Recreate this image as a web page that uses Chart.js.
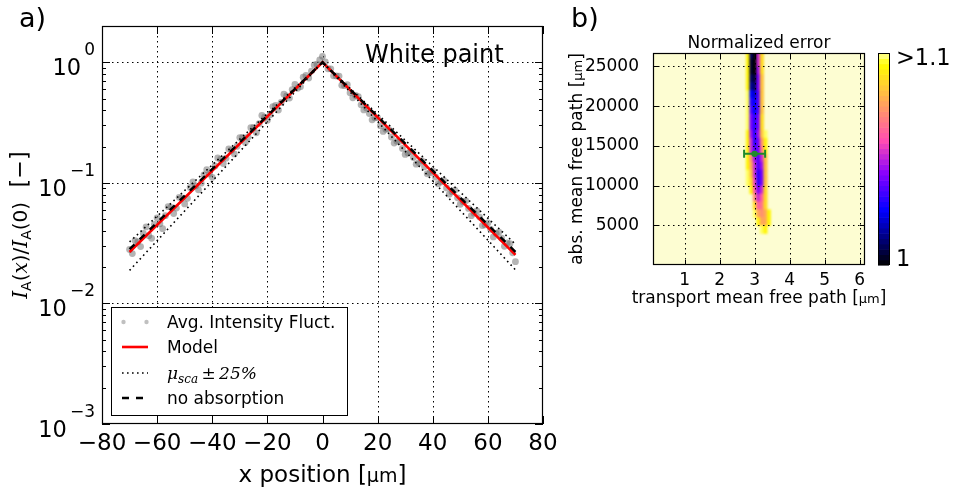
<!DOCTYPE html>
<html>
<head>
<meta charset="utf-8">
<title>White paint</title>
<script src="https://cdn.jsdelivr.net/npm/chart.js@4.4.1/dist/chart.umd.min.js"></script>
<style>
  html, body { margin: 0; padding: 0; background: #fff; }
  #wrap { position: relative; width: 957px; height: 488px; overflow: hidden; }
  canvas { position: absolute; top: 0; }
  #chartA { left: 0; }
  #chartB { left: 560px; }
</style>
</head>
<body>
<div id="wrap">
  <canvas id="chartA" width="560" height="488"></canvas>
  <canvas id="chartB" width="397" height="310"></canvas>
</div>
<script>
// ---- panel a) : intensity profile, one sample per micron from x = -70
const fluctStartX = -70;
const fluctY = [
  0.0280, 0.0259, 0.0332, 0.0324, 0.0296, 0.0381, 0.0431, 0.0365, 0.0347, 0.0452,
  0.0511, 0.0458, 0.0417, 0.0534, 0.0634, 0.0627, 0.0557, 0.0618, 0.0759, 0.0750,
  0.0669, 0.0744, 0.0917, 0.1020, 0.0944, 0.0877, 0.0995, 0.1167, 0.1286, 0.1187,
  0.1111, 0.1383, 0.1610, 0.1564, 0.1444, 0.1602, 0.1911, 0.1868, 0.1738, 0.2012,
  0.2373, 0.2387, 0.2162, 0.2400, 0.2867, 0.2881, 0.2601, 0.3104, 0.3622, 0.3510,
  0.3305, 0.3668, 0.4296, 0.4399, 0.4021, 0.4649, 0.5430, 0.5258, 0.5053, 0.5944,
  0.6558, 0.6090, 0.6280, 0.7519, 0.7772, 0.7412, 0.8456, 0.9505, 0.9648, 1.0446,
  1.12,
  1.006, 0.8837, 0.8820, 0.7724, 0.770, 0.768, 0.645, 0.640, 0.651, 0.559,
  0.508, 0.531, 0.519, 0.444, 0.403, 0.418, 0.376, 0.333, 0.346, 0.346,
  0.298, 0.267, 0.278, 0.278, 0.240, 0.214, 0.221, 0.221, 0.193, 0.172,
  0.177, 0.182, 0.162, 0.143, 0.147, 0.153, 0.136, 0.119, 0.121, 0.1255,
  0.1118, 0.0983, 0.1018, 0.1048, 0.0908, 0.0805, 0.0843, 0.0869, 0.0752, 0.0665,
  0.0697, 0.0709, 0.0614, 0.0534, 0.0561, 0.0585, 0.0520, 0.0442, 0.0448, 0.0465,
  0.0412, 0.0356, 0.0381, 0.0391, 0.0348, 0.0298, 0.0317, 0.0313, 0.0263, 0.0222
];
const modelX = [-70, 0, 70];
const modelY = [0.0267, 1, 0.0253];
const noAbsorptionY = [0.0282, 1, 0.0268];
const scaPlusY = [0.0324, 1, 0.0310];
const scaMinusY = [0.0188, 1, 0.0190];
const xTicksA = [-80, -60, -40, -20, 0, 20, 40, 60, 80];
const yDecadesA = [-3, -2, -1, 0];

// ---- panel b) : normalized error map (values > 1.1 shown as background)
const mapX = [2.7, 2.8, 2.9, 3.0, 3.1, 3.2, 3.3, 3.4, 3.5];
const mapY = [26500, 25500, 24500, 23500, 22500, 21500, 20500, 19500, 18500, 17500, 16500, 15500,
              14500, 13500, 12500, 11500, 10500, 9500, 8500, 7500, 6500, 5500, 4500];
const errNorm = [
  [1.2, 1.09, 1.01, 1.00, 1.05, 1.085, 1.2, 1.2, 1.2],
  [1.2, 1.09, 1.005, 1.00, 1.05, 1.085, 1.2, 1.2, 1.2],
  [1.2, 1.09, 1.005, 1.00, 1.045, 1.085, 1.2, 1.2, 1.2],
  [1.2, 1.09, 1.01, 1.005, 1.04, 1.08, 1.2, 1.2, 1.2],
  [1.2, 1.09, 1.015, 1.01, 1.04, 1.08, 1.2, 1.2, 1.2],
  [1.2, 1.095, 1.025, 1.02, 1.035, 1.08, 1.2, 1.2, 1.2],
  [1.2, 1.095, 1.03, 1.025, 1.035, 1.08, 1.2, 1.2, 1.2],
  [1.2, 1.095, 1.035, 1.025, 1.035, 1.08, 1.2, 1.2, 1.2],
  [1.2, 1.095, 1.04, 1.03, 1.04, 1.085, 1.2, 1.2, 1.2],
  [1.2, 1.095, 1.04, 1.03, 1.04, 1.085, 1.2, 1.2, 1.2],
  [1.2, 1.09, 1.045, 1.03, 1.045, 1.08, 1.095, 1.2, 1.2],
  [1.2, 1.09, 1.05, 1.03, 1.04, 1.07, 1.09, 1.2, 1.2],
  [1.2, 1.09, 1.05, 1.035, 1.04, 1.065, 1.09, 1.2, 1.2],
  [1.2, 1.09, 1.07, 1.045, 1.035, 1.05, 1.08, 1.2, 1.2],
  [1.2, 1.09, 1.075, 1.05, 1.035, 1.045, 1.08, 1.2, 1.2],
  [1.2, 1.095, 1.08, 1.05, 1.03, 1.04, 1.08, 1.2, 1.2],
  [1.2, 1.095, 1.085, 1.055, 1.03, 1.04, 1.08, 1.2, 1.2],
  [1.2, 1.2, 1.09, 1.06, 1.04, 1.05, 1.085, 1.2, 1.2],
  [1.2, 1.2, 1.2, 1.07, 1.05, 1.06, 1.085, 1.2, 1.2],
  [1.2, 1.2, 1.2, 1.085, 1.06, 1.065, 1.085, 1.2, 1.2],
  [1.2, 1.2, 1.2, 1.095, 1.075, 1.07, 1.075, 1.09, 1.2],
  [1.2, 1.2, 1.2, 1.2, 1.09, 1.075, 1.075, 1.09, 1.2],
  [1.2, 1.2, 1.2, 1.2, 1.2, 1.095, 1.09, 1.2, 1.2]
];
const fitX = 3.0, fitY = 14000, fitErrX = 0.3;
const xTicksB = [1, 2, 3, 4, 5, 6];
const yTicksB = [5000, 10000, 15000, 20000, 25000];

const SANS = '"DejaVu Sans"';
const SERIF = '"DejaVu Serif"';
const dotted = [1.5, 3.5];
const fitColor = '#1f8a2a';

Chart.defaults.font.family = 'DejaVu Sans';
Chart.defaults.color = '#000';

function pts(xs, ys) { return xs.map((x, i) => ({ x: x, y: ys[i] })); }
const fluctPts = fluctY.map((v, i) => ({ x: fluctStartX + i, y: v }));

function clamp(v) { return Math.min(1, Math.max(0, v)); }
// gnuplot2 colormap (rgbformulae 30, 31, 32)
function gnuplot2(t) {
  t = clamp(t);
  const r = clamp(t / 0.32 - 0.78125);
  const g = clamp(2 * t - 0.84);
  let b;
  if (t < 0.25) b = 4 * t;
  else if (t < 0.42) b = 1;
  else if (t < 0.92) b = -2 * t + 1.84;
  else b = t / 0.08 - 11.5;
  b = clamp(b);
  return `rgb(${Math.round(r * 255)},${Math.round(g * 255)},${Math.round(b * 255)})`;
}
const overColor = 'rgb(253,253,210)';

// draw a line of mixed-font text centred on (x, y)
function richText(ctx, parts, x, y, rot) {
  ctx.save();
  ctx.translate(x, y);
  if (rot) ctx.rotate(rot);
  ctx.textAlign = 'left';
  ctx.textBaseline = 'alphabetic';
  ctx.fillStyle = '#000';
  let total = 0;
  parts.forEach(p => { ctx.font = p[1]; total += ctx.measureText(p[0]).width; });
  let cx = -total / 2;
  parts.forEach(p => {
    ctx.font = p[1];
    ctx.fillText(p[0], cx, p[2] || 0);
    cx += ctx.measureText(p[0]).width;
  });
  ctx.restore();
  return total;
}

const panelA = {
  id: 'panelA',
  beforeDatasetsDraw(chart) {
    const { ctx, chartArea: a, scales: { x, y } } = chart;
    ctx.save();
    ctx.strokeStyle = '#000';
    ctx.lineWidth = 1;
    ctx.setLineDash(dotted);
    ctx.beginPath();
    xTicksA.slice(1, -1).forEach(v => {
      const px = Math.round(x.getPixelForValue(v)) + 0.5;
      ctx.moveTo(px, a.top); ctx.lineTo(px, a.bottom);
    });
    yDecadesA.slice(1).forEach(d => {
      const py = Math.round(y.getPixelForValue(Math.pow(10, d))) + 0.5;
      ctx.moveTo(a.left, py); ctx.lineTo(a.right, py);
    });
    ctx.stroke();
    ctx.restore();
  },
  afterDatasetsDraw(chart) {
    const { ctx, chartArea: a, scales: { x, y } } = chart;
    ctx.save();
    ctx.strokeStyle = '#000';
    ctx.lineWidth = 1;
    ctx.setLineDash([]);
    ctx.beginPath();
    xTicksA.forEach(v => {
      const px = Math.round(x.getPixelForValue(v)) + 0.5;
      ctx.moveTo(px, a.bottom); ctx.lineTo(px, a.bottom - 8);
      ctx.moveTo(px, a.top); ctx.lineTo(px, a.top + 8);
    });
    yDecadesA.forEach(d => {
      for (let k = 1; k <= 9; k++) {
        const v = k * Math.pow(10, d);
        if (v >= y.max) break;
        const py = Math.round(y.getPixelForValue(v)) + 0.5;
        const len = k === 1 ? 8 : 4;
        ctx.moveTo(a.left, py); ctx.lineTo(a.left + len, py);
        ctx.moveTo(a.right, py); ctx.lineTo(a.right - len, py);
      }
    });
    ctx.stroke();
    ctx.lineWidth = 1.2;
    ctx.strokeRect(Math.round(a.left) + 0.5, Math.round(a.top) + 0.5, Math.round(a.width) - 1, Math.round(a.height) - 1);
    ctx.restore();
  },
  afterDraw(chart) {
    const { ctx, chartArea: a, scales: { y } } = chart;
    const ds = chart.data.datasets;
    ctx.save();
    ctx.fillStyle = '#000';
    // y tick labels 10^n
    yDecadesA.forEach(d => {
      const py = y.getPixelForValue(Math.pow(10, d));
      const exp = d === 0 ? '0' : '\u2212' + (-d);
      ctx.textAlign = 'right';
      ctx.textBaseline = 'alphabetic';
      ctx.font = `17px ${SANS}`;
      const we = ctx.measureText(exp).width;
      ctx.fillText(exp, a.left - 7, py - 7);
      ctx.font = `22.5px ${SANS}`;
      ctx.fillText('10', a.left - 7 - we - 3, py + 13);
    });
    ctx.restore();

    // axis titles
    richText(ctx, [
      ['I', `italic 20px ${SERIF}`], ['A', `14px ${SANS}`, 4], ['(', `20px ${SANS}`],
      ['x', `italic 20px ${SERIF}`], [')/', `20px ${SANS}`], ['I', `italic 20px ${SERIF}`],
      ['A', `14px ${SANS}`, 4], ['(0)', `20px ${SANS}`], ['  [\u2212]', `22.5px ${SANS}`]
    ], 27, (a.top + a.bottom) / 2, -Math.PI / 2);
    richText(ctx, [['x position [', `23px ${SANS}`], ['\u03bcm', `19px ${SANS}`], [']', `23px ${SANS}`]],
      (a.left + a.right) / 2, 482);

    ctx.save();
    ctx.fillStyle = '#000';
    ctx.textBaseline = 'alphabetic';
    ctx.textAlign = 'left';
    ctx.font = `27px ${SANS}`;
    ctx.fillText('a)', 19, 27);
    ctx.font = `24px ${SANS}`;
    ctx.fillText('White paint', 365, 62);

    // legend
    const L = { x: 111, y: 307, w: 236, h: 108 };
    const rows = [322, 347, 373, 398];
    const hx0 = 122, hx1 = 148, tx = 167;
    ctx.fillStyle = '#fff';
    ctx.fillRect(L.x, L.y, L.w, L.h);
    ctx.strokeStyle = '#000';
    ctx.lineWidth = 1;
    ctx.strokeRect(L.x + 0.5, L.y + 0.5, L.w, L.h);

    ctx.fillStyle = 'rgba(150,150,150,0.6)';
    [hx0 + 1.5, hx1 - 1.5].forEach(px => {
      ctx.beginPath(); ctx.arc(px, rows[0], 2.2, 0, Math.PI * 2); ctx.fill();
    });
    [[1, rows[1]], [2, rows[2]], [4, rows[3]]].forEach(([i, ry]) => {
      ctx.strokeStyle = ds[i].borderColor;
      ctx.lineWidth = ds[i].borderWidth;
      ctx.setLineDash(ds[i].borderDash || []);
      ctx.beginPath(); ctx.moveTo(hx0, ry); ctx.lineTo(hx1, ry); ctx.stroke();
    });
    ctx.setLineDash([]);
    ctx.fillStyle = '#000';
    ctx.font = `17px ${SANS}`;
    ctx.fillText(ds[0].label, tx, rows[0] + 6);
    ctx.fillText(ds[1].label, tx, rows[1] + 6);
    ctx.fillText(ds[4].label, tx, rows[3] + 6);
    let cx = tx;
    [['\u03bc', `italic 17px ${SERIF}`, 0], ['sca', `italic 12px ${SERIF}`, 4],
     ['\u2009\u00b1\u2009', `17px ${SERIF}`, 0], ['25%', `italic 17px ${SERIF}`, 0]].forEach(p => {
      ctx.font = p[1];
      ctx.fillText(p[0], cx, rows[2] + 6 + p[2]);
      cx += ctx.measureText(p[0]).width;
    });
    ctx.restore();
  }
};

new Chart(document.getElementById('chartA'), {
  type: 'scatter',
  data: {
    datasets: [
      { label: 'Avg. Intensity Fluct.', data: fluctPts, showLine: false, pointRadius: 3.4,
        pointBackgroundColor: 'rgba(105,105,105,0.5)', pointBorderWidth: 0, order: 4 },
      { label: 'Model', data: pts(modelX, modelY), showLine: true, borderColor: '#ff0000',
        borderWidth: 2.6, pointRadius: 0, order: 3 },
      { label: '\u03bcsca \u00b1 25%', data: pts(modelX, scaPlusY), showLine: true, borderColor: '#000',
        borderWidth: 1.6, borderDash: [1.6, 3.4], pointRadius: 0, order: 2 },
      { label: '', data: pts(modelX, scaMinusY), showLine: true, borderColor: '#000',
        borderWidth: 1.6, borderDash: [1.6, 3.4], pointRadius: 0, order: 2 },
      { label: 'no absorption', data: pts(modelX, noAbsorptionY), showLine: true, borderColor: '#000',
        borderWidth: 2.4, borderDash: [7, 7], pointRadius: 0, order: 1 }
    ]
  },
  options: {
    responsive: false,
    animation: false,
    events: [],
    layout: { padding: { top: 26, right: 17, left: 0, bottom: 0 } },
    plugins: { legend: { display: false }, tooltip: { enabled: false } },
    scales: {
      x: {
        type: 'linear', min: -80, max: 80,
        afterBuildTicks: s => { s.ticks = xTicksA.map(v => ({ value: v })); },
        afterFit: s => { s.height = 64; },
        grid: { display: false }, border: { display: false },
        ticks: { autoSkip: false, maxRotation: 0, padding: 1, color: '#000',
          font: { family: 'DejaVu Sans', size: 23, lineHeight: 1.0 },
          callback: v => (v < 0 ? '\u2212' + (-v) : String(v)) }
      },
      y: {
        type: 'logarithmic', min: 0.001, max: 2,
        afterFit: s => { s.width = 102; },
        grid: { display: false }, border: { display: false },
        ticks: { display: false }
      }
    }
  },
  plugins: [panelA]
});

const panelB = {
  id: 'panelB',
  beforeDatasetsDraw(chart) {
    const { ctx, chartArea: a, scales: { x, y } } = chart;
    ctx.save();
    ctx.beginPath(); ctx.rect(a.left, a.top, a.width, a.height); ctx.clip();
    ctx.fillStyle = overColor;
    ctx.fillRect(a.left, a.top, a.width, a.height);

    // cells on an offscreen layer, then softened like a contour fill
    const off = document.createElement('canvas');
    off.width = chart.width; off.height = chart.height;
    const o = off.getContext('2d');
    const cw = 0.1, ch = 1000;
    errNorm.forEach((row, j) => row.forEach((v, i) => {
      if (v > 1.1) return;
      const x0 = x.getPixelForValue(mapX[i] - cw / 2), x1 = x.getPixelForValue(mapX[i] + cw / 2);
      const y0 = y.getPixelForValue(mapY[j] + ch / 2), y1 = y.getPixelForValue(mapY[j] - ch / 2);
      o.fillStyle = gnuplot2((v - 1) / 0.1);
      o.fillRect(x0, y0, x1 - x0 + 0.6, y1 - y0 + 0.6);
    }));
    ctx.filter = 'blur(1.1px)';
    ctx.drawImage(off, 0, 0);
    ctx.filter = 'none';

    ctx.strokeStyle = '#000';
    ctx.lineWidth = 1;
    ctx.setLineDash(dotted);
    ctx.beginPath();
    xTicksB.forEach(v => {
      const px = Math.round(x.getPixelForValue(v)) + 0.5;
      ctx.moveTo(px, a.top); ctx.lineTo(px, a.bottom);
    });
    yTicksB.forEach(v => {
      const py = Math.round(y.getPixelForValue(v)) + 0.5;
      ctx.moveTo(a.left, py); ctx.lineTo(a.right, py);
    });
    ctx.stroke();

    // error bar of the best fit
    ctx.setLineDash([]);
    ctx.strokeStyle = fitColor;
    ctx.lineWidth = 2;
    const py = y.getPixelForValue(fitY);
    const ex0 = x.getPixelForValue(fitX - fitErrX), ex1 = x.getPixelForValue(fitX + fitErrX);
    ctx.beginPath();
    ctx.moveTo(ex0, py); ctx.lineTo(ex1, py);
    ctx.moveTo(ex0, py - 4); ctx.lineTo(ex0, py + 4);
    ctx.moveTo(ex1, py - 4); ctx.lineTo(ex1, py + 4);
    ctx.stroke();
    ctx.restore();
  },
  afterDatasetsDraw(chart) {
    const { ctx, chartArea: a, scales: { x, y } } = chart;
    ctx.save();
    ctx.strokeStyle = '#000';
    ctx.lineWidth = 1;
    ctx.beginPath();
    xTicksB.forEach(v => {
      const px = Math.round(x.getPixelForValue(v)) + 0.5;
      ctx.moveTo(px, a.bottom); ctx.lineTo(px, a.bottom - 5);
      ctx.moveTo(px, a.top); ctx.lineTo(px, a.top + 5);
    });
    yTicksB.forEach(v => {
      const py = Math.round(y.getPixelForValue(v)) + 0.5;
      ctx.moveTo(a.left, py); ctx.lineTo(a.left + 5, py);
      ctx.moveTo(a.right, py); ctx.lineTo(a.right - 5, py);
    });
    ctx.stroke();
    ctx.lineWidth = 1.2;
    ctx.strokeRect(Math.round(a.left) + 0.5, Math.round(a.top) + 0.5, Math.round(a.width) - 1, Math.round(a.height) - 1);
    ctx.restore();
  },
  afterDraw(chart) {
    const { ctx, chartArea: a } = chart;
    const cx = (a.left + a.right) / 2;
    richText(ctx, [['Normalized error', `17px ${SANS}`]], cx, a.top - 5);
    richText(ctx, [['transport mean free path [', `17px ${SANS}`], ['\u03bcm', `13px ${SANS}`], [']', `17px ${SANS}`]],
      cx, 303);
    richText(ctx, [['abs. mean free path [', `17px ${SANS}`], ['\u03bcm', `13px ${SANS}`], [']', `17px ${SANS}`]],
      22, (a.top + a.bottom) / 2, -Math.PI / 2);

    // colour bar
    ctx.save();
    const cbL = a.right + 13, cbW = 11, n = 40;
    for (let k = 0; k < n; k++) {
      const t = (k + 0.5) / n;
      ctx.fillStyle = gnuplot2(t * 0.97);
      const h = a.height / n;
      ctx.fillRect(cbL, a.bottom - (k + 1) * h, cbW, h + 0.6);
    }
    ctx.strokeStyle = '#000';
    ctx.lineWidth = 1;
    ctx.strokeRect(cbL + 0.5, Math.round(a.top) + 0.5, cbW, Math.round(a.height) - 1);
    ctx.fillStyle = '#000';
    ctx.textAlign = 'left';
    ctx.textBaseline = 'alphabetic';
    ctx.font = `22.5px ${SANS}`;
    ctx.fillText('>1.1', cbL + 18, a.top + 12);
    ctx.fillText('1', cbL + 18, a.bottom + 1);
    ctx.font = `27px ${SANS}`;
    ctx.fillText('b)', 11, 27);
    ctx.restore();
  }
};

new Chart(document.getElementById('chartB'), {
  type: 'scatter',
  data: {
    datasets: [
      { label: 'best fit', data: [{ x: fitX, y: fitY }], pointRadius: 3.2,
        pointBackgroundColor: fitColor, pointBorderWidth: 0 }
    ]
  },
  options: {
    responsive: false,
    animation: false,
    events: [],
    layout: { padding: { top: 53, right: 92, left: 0, bottom: 0 } },
    plugins: { legend: { display: false }, tooltip: { enabled: false } },
    scales: {
      x: {
        type: 'linear', min: 0.1, max: 6.15,
        afterBuildTicks: s => { s.ticks = xTicksB.map(v => ({ value: v })); },
        afterFit: s => { s.height = 45; },
        grid: { display: false }, border: { display: false },
        ticks: { autoSkip: false, maxRotation: 0, padding: -1, color: '#000',
          font: { family: 'DejaVu Sans', size: 17, lineHeight: 1.0 } }
      },
      y: {
        type: 'linear', min: 0, max: 26700,
        afterBuildTicks: s => { s.ticks = yTicksB.map(v => ({ value: v })); },
        afterFit: s => { s.width = 93; },
        grid: { display: false }, border: { display: false },
        ticks: { autoSkip: false, padding: 6, color: '#000',
          font: { family: 'DejaVu Sans', size: 17 }, callback: v => String(v) }
      }
    }
  },
  plugins: [panelB]
});
</script>
</body>
</html>
